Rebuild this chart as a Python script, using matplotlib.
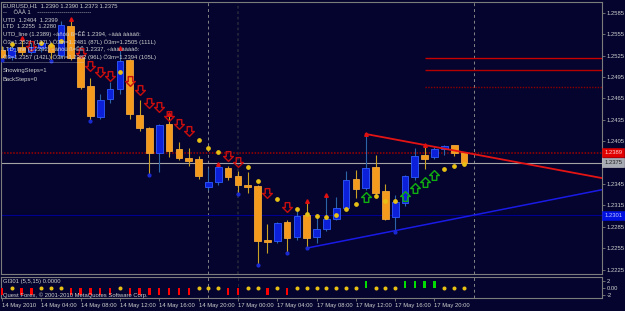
import matplotlib.pyplot as plt
import matplotlib.transforms as mtransforms
from matplotlib.path import Path
import numpy as np

plt.rcParams['font.family'] = ['Liberation Sans', 'DejaVu Sans']

# EURUSD H1 bars, 14 May 2010 00:00 .. 17 May 2010 23:00
opens = [1.2533, 1.2523, 1.2537, 1.2530, 1.2536, 1.2540, 1.2526, 1.2566, 1.2523, 1.2482,
         1.2439, 1.2464, 1.2478, 1.2519, 1.2442, 1.2423, 1.2388, 1.2429, 1.2394, 1.2381,
         1.2380, 1.2341, 1.2348, 1.2367, 1.2356, 1.2343, 1.2342, 1.2266, 1.2265, 1.2292,
         1.2271, 1.2301, 1.2271, 1.2282, 1.2296, 1.2311, 1.2352, 1.2339, 1.2369, 1.2335,
         1.2299, 1.2318, 1.2355, 1.2386, 1.2383, 1.2394, 1.2400, 1.2390]
highs = [1.2538, 1.2543, 1.2550, 1.2543, 1.2545, 1.2544, 1.2573, 1.2576, 1.2524, 1.2494,
         1.2471, 1.2488, 1.2536, 1.2520, 1.2463, 1.2425, 1.2429, 1.2443, 1.2404, 1.2395,
         1.2384, 1.2367, 1.2373, 1.2370, 1.2363, 1.2362, 1.2343, 1.2289, 1.2291, 1.2294,
         1.2308, 1.2321, 1.2303, 1.2329, 1.2327, 1.2363, 1.2365, 1.2415, 1.2386, 1.2345,
         1.2329, 1.2357, 1.2395, 1.2400, 1.2397, 1.2400, 1.2400, 1.2390]
lows = [1.2519, 1.2519, 1.2526, 1.2527, 1.2530, 1.2517, 1.2522, 1.2519, 1.2478, 1.2433,
        1.2436, 1.2458, 1.2471, 1.2436, 1.2419, 1.2358, 1.2362, 1.2383, 1.2379, 1.2370,
        1.2352, 1.2336, 1.2343, 1.2351, 1.2331, 1.2332, 1.2231, 1.2248, 1.2262, 1.2248,
        1.2266, 1.2255, 1.2262, 1.2279, 1.2294, 1.2308, 1.2325, 1.2336, 1.2327, 1.2294,
        1.2278, 1.2314, 1.2351, 1.2366, 1.2380, 1.2386, 1.2384, 1.2373]
closes = [1.2523, 1.2536, 1.2530, 1.2537, 1.2543, 1.2530, 1.2568, 1.2522, 1.2481, 1.2440,
          1.2463, 1.2478, 1.2517, 1.2443, 1.2423, 1.2388, 1.2428, 1.2391, 1.2381, 1.2377,
          1.2356, 1.2348, 1.2369, 1.2355, 1.2343, 1.2341, 1.2265, 1.2264, 1.2290, 1.2269,
          1.2300, 1.2269, 1.2282, 1.2296, 1.2311, 1.2351, 1.2338, 1.2367, 1.2332, 1.2296,
          1.2320, 1.2356, 1.2384, 1.2380, 1.2394, 1.2398, 1.2388, 1.2375]

time_ticks = [0, 4, 8, 12, 16, 20, 24, 28, 32, 36, 40, 44]
time_labels = ["14 May 2010", "14 May 04:00", "14 May 08:00", "14 May 12:00",
               "14 May 16:00", "14 May 20:00", "17 May 00:00", "17 May 04:00",
               "17 May 08:00", "17 May 12:00", "17 May 16:00", "17 May 20:00"]
# 1.2375 is hidden behind the bid label
price_ticks = [1.2585, 1.2555, 1.2525, 1.2495, 1.2465, 1.2435, 1.2405,
               1.2345, 1.2315, 1.2285, 1.2255, 1.2225]

# step dots (yellow), down arrows, up arrows
dot_idx = [1, 4, 5, 6, 12, 20, 21, 22, 25, 26, 28, 30, 31, 32, 33, 34, 35, 36, 38, 39, 40, 45, 46, 47]
dot_val = [1.2541, 1.2543, 1.2540, 1.2545, 1.2502, 1.2407, 1.2395, 1.2390, 1.2369, 1.2349,
           1.2324, 1.2310, 1.2303, 1.2300, 1.2298, 1.2301, 1.2310, 1.2317, 1.2328, 1.2321,
           1.2321, 1.2366, 1.2370, 1.2373]
down_idx = [3, 8, 9, 10, 11, 13, 14, 15, 16, 17, 18, 19, 23, 24, 27, 29]
down_val = [1.2538, 1.2529, 1.2510, 1.2502, 1.2496, 1.2489, 1.2477, 1.2458, 1.2453, 1.2440,
            1.2429, 1.2419, 1.2384, 1.2376, 1.2332, 1.2313]
up_idx = [37, 41, 42, 43, 44]
up_val = [1.2327, 1.2328, 1.2339, 1.2348, 1.2357]
frac_up = [2, 7, 12, 17, 22, 31, 33, 37, 43]
frac_dn = [0, 5, 9, 15, 24, 26, 29, 31, 40]

# trend lines and levels
utd_x = [37, 61.1]
utd_y = [1.2415, 1.2353]
ltd_x = [31, 61.1]
ltd_y = [1.2255, 1.2337]
utd_level = 1.2389
bid = 1.2375
blue_level = 1.2301
c3_levels = [1.2521, 1.2505, 1.2481]
c3_start = 43
vlines_x = [21, 24, 48]

# GI301 indicator per bar
gi = [-2, 0, -2, -2, 0, 0, 0, -2, -2, -2, -2, -2, 0, -2, -2, -2, -2, -2, -2, -2,
      0, 0, 0, -2, -2, 0, 0, -2, 0, -2, 0, 0, 0, 0, 0, 0, 0, 2, 0, 0,
      0, 2, 2, 2, 2, 0, 0, 0]

header = ["EURUSD,H1  1.2390 1.2390 1.2373 1.2375",
          "--    ÕÀÀ 1    ---------------------------",
          "UTD  1.2404  1.2399",
          "LTD  1.2255  1.2280",
          "UTD_line (1.2389) ÷àñòü ß=ÊÊ 1.2394, ÷ààà ààààõ:",
          "Ö3=1.2521 (137L) Ö3m=1.2481 (87L) Ö3m=1.2505 (111L)",
          "LTD_line (1.2292) ÷àñòü ß=ÊÊ 1.2337, ÷ààà ààààõ:",
          "Ö3=1.2357 (142L) Ö3m=1.2382 (96L) Ö3m=1.2394 (105L)",
          "-----------------------------------------",
          "ShowingSteps=1",
          "BackSteps=0"]
header_y = [6, 13, 20, 27, 34, 42, 49, 57, 63, 71, 79]

BG = '#04042e'
GRID = '#7c7c7c'
TXT = '#d0d0d0'

W, H = 625, 311
fig = plt.figure(figsize=(6.25, 3.11), dpi=100)
fig.patch.set_facecolor(BG)
ax = fig.add_axes([1 / W, 1 - 274 / H, 601 / W, 272 / H])
ax2 = fig.add_axes([1 / W, 1 - 298 / H, 601 / W, 21 / H])
for a in (ax, ax2):
    a.set_facecolor(BG)
    for s in a.spines.values():
        s.set_color(GRID)
        s.set_linewidth(0.8)
    a.set_xlim(-0.10, 61.04)

ax.set_ylim(1.22187, 1.26000)
ax2.set_ylim(-2.86, 3.14)

o = np.array(opens)
h = np.array(highs)
l = np.array(lows)
c = np.array(closes)
x = np.arange(len(o))
bull = c >= o
wick_col = np.where(bull, '#2c64a8', '#c9a024')
fill_col = np.where(bull, '#0c20da', '#f49a1c')
edge_col = np.where(bull, '#2f5cff', '#f0a63a')

# vertical markers
ax.axvline(vlines_x[0], color='#858585', lw=0.7, ls=(0, (3, 3)), zorder=1)
ax.axvline(vlines_x[1], color='#24243a', lw=1.3, ls=(0, (1.5, 1.5)), zorder=1)
ax.axvline(vlines_x[2], color='#858585', lw=0.7, ls=(0, (3, 3)), zorder=1)
for v in vlines_x:
    ax2.axvline(v, color='#858585' if v != 24 else '#24243a', lw=0.7, ls=(0, (3, 3)), zorder=1)

# header text
for t, yy in zip(header, header_y):
    fig.text(3 / W, 1 - yy / H, t, fontsize=4.2, color=TXT, va='center', ha='left', zorder=1)

# horizontal levels
ax.axhline(utd_level, color='#a00000', lw=1.1, ls=(0, (1, 1)), zorder=2)
ax.axhline(bid, color='#a4a4a4', lw=0.8, zorder=2)
ax.axhline(blue_level, color='#000090', lw=0.8, zorder=2)
ax.hlines(c3_levels[:2], c3_start, 61.04, colors=['#c80000', '#b40000'], lw=1.0, zorder=2)
ax.hlines(c3_levels[2:], c3_start, 61.04, colors='#8c0000', lw=1.0, ls=(0, (1, 1)), zorder=2)

# candles
ax.vlines(x, l, h, colors=wick_col, lw=0.8, zorder=3)
body = np.maximum(np.abs(c - o), 0.00003)
ax.bar(x, body, bottom=np.minimum(o, c), width=0.68, color=fill_col,
       edgecolor=edge_col, linewidth=0.6, zorder=4)

# trend lines
ax.plot(utd_x, utd_y, color='#e41414', lw=1.3, zorder=5)
ax.plot(ltd_x, ltd_y, color='#1a1ae6', lw=1.1, zorder=5)

# markers
arrow = Path([(-0.28, 0.6), (0.28, 0.6), (0.28, 0.0), (0.6, 0.0), (0.0, -0.6),
              (-0.6, 0.0), (-0.28, 0.0), (-0.28, 0.6)],
             [Path.MOVETO] + [Path.LINETO] * 6 + [Path.CLOSEPOLY])
arrow_up = Path(arrow.vertices * np.array([1, -1]), arrow.codes)
ax.plot(down_idx, down_val, ls='none', marker=arrow, ms=7, mfc='none', mec='#c80e0e',
        mew=1.0, zorder=6)
ax.plot(up_idx, up_val, ls='none', marker=arrow_up, ms=7, mfc='none', mec='#10b010',
        mew=1.0, zorder=6)
ax.plot(dot_idx, dot_val, ls='none', marker='o', ms=2.4, color='#e8c014', zorder=6)
ax.plot(frac_up, h[frac_up], ls='none', marker='^', ms=2.6, color='#e01010', zorder=6)
ax.plot(frac_dn, l[frac_dn], ls='none', marker='o', ms=2.0, color='#1a2ad0', zorder=6)

# price axis
ax.set_xticks([])
ax.yaxis.tick_right()
ax.set_yticks(price_ticks)
ax.set_yticklabels([f"{p:.4f}" for p in price_ticks])
ax.tick_params(axis='y', length=2, width=0.6, color=GRID, labelsize=4.2, labelcolor=TXT, pad=1.5)

tr = mtransforms.blended_transform_factory(ax.transAxes, ax.transData)
boxes = [(utd_level, '#e00000', '#ffd0d0'), (bid, '#a8acb4', '#202020'),
         (blue_level, '#0010e0', '#c0c8ff')]
for val, fc, tc in boxes:
    ax.text(1.004, val, f"{val:.4f}", transform=tr, fontsize=4.2, color=tc, va='center',
            ha='left', clip_on=False, zorder=10,
            bbox=dict(facecolor=fc, edgecolor='#d0d0d0' if fc == '#a8acb4' else fc,
                      linewidth=0.4, boxstyle='square,pad=0.35'))

# indicator window
g = np.array(gi)
nz = g != 0
ax2.bar(x[nz], g[nz], width=0.24, color=np.where(g[nz] > 0, '#00dd00', '#ff0000'), zorder=3)
ax2.plot(x[~nz], g[~nz], ls='none', marker='o', ms=1.9, color='#e8c014', zorder=3)
ax2.yaxis.tick_right()
ax2.set_yticks([2, 0, -2])
ax2.set_yticklabels(['2', '0.00', '-2'])
ax2.tick_params(axis='y', length=2, width=0.6, color=GRID, labelsize=4.2, labelcolor=TXT, pad=1.5)
ax2.set_xticks(time_ticks)
ax2.set_xticklabels(time_labels)
ax2.tick_params(axis='x', length=2, width=0.6, color=GRID, labelsize=4.2, labelcolor=TXT, pad=1.5)
for lb in ax2.get_xticklabels():
    lb.set_ha('left')
ax2.text(2 / 601, 0.80, "GI301 (5,5,15) 0.0000", transform=ax2.transAxes, fontsize=4.2,
         color=TXT, va='center', ha='left')
ax2.text(2 / 601, 0.15, "Quest Forex, © 2001-2010 MetaQuotes Software Corp.",
         transform=ax2.transAxes, fontsize=4.2, color=TXT, va='center', ha='left', zorder=5)

fig.savefig('out.png', dpi=100, facecolor=BG)
